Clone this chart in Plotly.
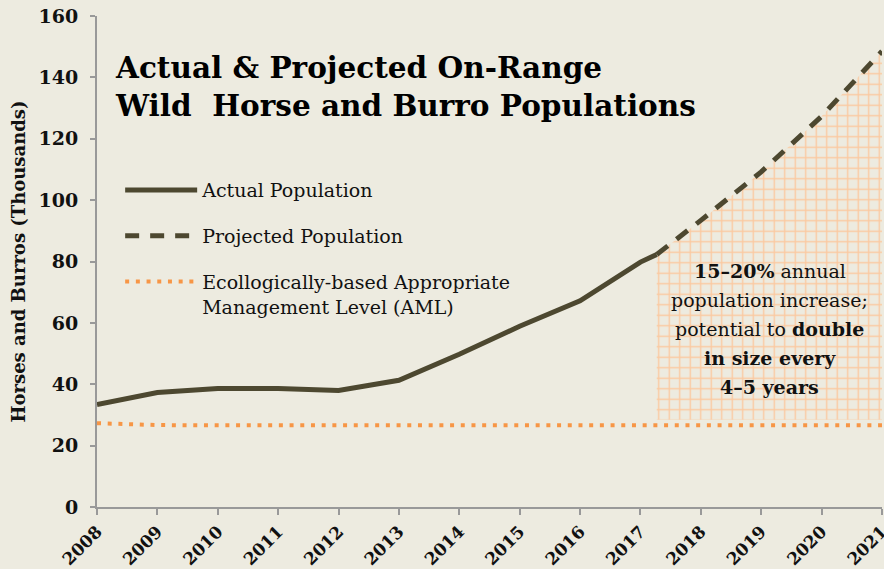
import plotly.graph_objects as go

# ---- data ----
actual_years = [2008, 2009, 2010, 2011, 2012, 2013, 2014, 2015, 2016, 2017, 2017.27]
actual_vals = [33.4, 37.3, 38.6, 38.6, 38.0, 41.3, 49.8, 58.9, 67.2, 79.8, 82.3]

proj_years = [2017.27, 2018, 2019, 2020, 2021]
proj_vals = [82.3, 93.4, 109.2, 127.3, 148.5]

aml_years = [2008, 2009, 2010, 2011, 2012, 2013, 2014, 2015, 2016, 2017, 2018, 2019, 2020, 2021]
aml_vals = [27.3, 26.7, 26.6, 26.6, 26.6, 26.6, 26.6, 26.6, 26.6, 26.6, 26.6, 26.6, 26.6, 26.6]

hatch_floor = 28.4
tick_years = list(range(2008, 2022))
y_ticks = [0, 20, 40, 60, 80, 100, 120, 140, 160]

note_lines = ["<b>15–20%</b> annual", "population increase;", "potential to <b>double</b>",
              "<b>in size every</b>", "<b>4–5 years</b>"]

BG = "#edebe0"
LINE = "#4d4830"
ORANGE = "#f79646"
HATCH = "#fbc9a0"
FONT = "DejaVu Serif"

fig = go.Figure()

# hatched projection area
hx = proj_years + [proj_years[-1], proj_years[0]]
hy = proj_vals + [hatch_floor, hatch_floor]
fig.add_trace(go.Scatter(
    x=hx, y=hy, mode="lines", fill="toself", line=dict(width=0),
    fillcolor="rgba(0,0,0,0)",
    fillpattern=dict(shape="+", size=10.5, solidity=0.25, fgcolor=HATCH, bgcolor="rgba(0,0,0,0)", fgopacity=1),
    showlegend=False, hoverinfo="skip"))

fig.add_trace(go.Scatter(
    x=actual_years, y=actual_vals, mode="lines", name="Actual Population",
    line=dict(color=LINE, width=5), legendgroup="a"))
fig.add_trace(go.Scatter(
    x=proj_years, y=proj_vals, mode="lines", name="Projected Population",
    line=dict(color=LINE, width=5, dash="14px,11px"), legendgroup="b"))
fig.add_trace(go.Scatter(
    x=aml_years, y=aml_vals, mode="lines",
    name="Ecollogically-based Appropriate<br>Management Level (AML)",
    line=dict(color=ORANGE, width=4, dash="4px,6.7px"), legendgroup="c"))

fig.add_annotation(
    xref="paper", yref="paper", x=0.02, y=0.935, xanchor="left", yanchor="top",
    text="<b>Actual & Projected On-Range<br>Wild  Horse and Burro Populations</b>",
    showarrow=False, align="left", font=dict(family=FONT, size=29.5, color="#000000"))

# note text in hatched area, one annotation per line
top_px = 271
for i, t in enumerate(note_lines):
    ypx = top_px + i * 29
    fig.add_annotation(
        xref="paper", yref="paper", x=0.857, y=(507 - ypx) / 491,
        xanchor="center", yanchor="middle", text=t, showarrow=False,
        font=dict(family=FONT, size=19, color="#111111"))

fig.update_layout(
    width=884, height=569,
    paper_bgcolor=BG, plot_bgcolor=BG,
    margin=dict(l=97, r=2, t=16, b=62),
    font=dict(family=FONT, color="#111111"),
    legend=dict(x=0.0295, y=0.684, xanchor="left", yanchor="top",
                bgcolor="rgba(0,0,0,0)", itemwidth=72, valign="top",
                tracegroupgap=18, font=dict(family=FONT, size=19, color="#111111")),
    xaxis=dict(range=[2008, 2021.0005], tickvals=tick_years,
               ticktext=["<b>%d</b>" % t for t in tick_years],
               tickangle=-45, showgrid=False, zeroline=False, showline=True,
               linecolor="#999999", linewidth=2, ticks="outside", ticklen=6,
               tickcolor="#999999", tickwidth=1.5, automargin=False,
               ticklabeloverflow="allow",
               tickfont=dict(family=FONT, size=17, color="#111111")),
    yaxis=dict(range=[0, 160], tickvals=y_ticks, ticktext=["<b>%d</b>" % t for t in y_ticks],
               showgrid=False, zeroline=False,
               showline=True, linecolor="#999999", linewidth=2, ticks="outside",
               ticklen=5, tickcolor="#999999", tickwidth=1.5, automargin=False,
               ticklabelstandoff=8,
               tickfont=dict(family=FONT, size=19, color="#111111"),
               title=dict(text="<b>Horses and Burros (Thousands)</b>", standoff=8,
                          font=dict(family=FONT, size=18, color="#111111"))),
)

fig.write_html("out.html", config={"displayModeBar": False},
               post_script="document.body.style.margin='0';document.body.style.background='%s';" % BG)
